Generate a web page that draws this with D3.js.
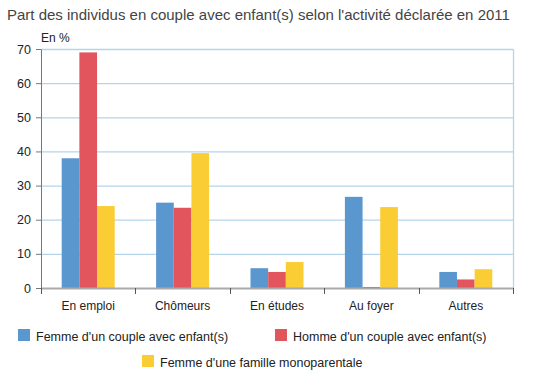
<!DOCTYPE html>
<html>
<head>
<meta charset="utf-8">
<script src="https://cdn.jsdelivr.net/npm/d3@7"></script>
<style>
  body { margin: 0; background: #fff; }
  svg { font-family: "Liberation Sans", Arial, sans-serif; }
</style>
</head>
<body>
<div class="chart"></div>
<script>
var categories = ["En emploi", "Chômeurs", "En études", "Au foyer", "Autres"];
var seriesNames = ["Femme d'un couple avec enfant(s)", "Homme d'un couple avec enfant(s)", "Femme d'une famille monoparentale"];
var femmeCouple = [38, 25, 5.8, 26.7, 4.7];
var hommeCouple = [69, 23.5, 4.7, 0.3, 2.5];
var femmeMono = [24, 39.5, 7.6, 23.7, 5.5];
var yTicks = [0, 10, 20, 30, 40, 50, 60, 70];

var colors = ["#5b97cf", "#e3555c", "#f9cd33"];
var seriesValues = [femmeCouple, hommeCouple, femmeMono];

var W = 537, H = 372;
var margin = {top: 49, right: 24, bottom: 84, left: 41},
    width = W - margin.left - margin.right,
    height = H - margin.top - margin.bottom;

var svg = d3.select(".chart").append("svg")
    .attr("width", W)
    .attr("height", H);

svg.append("text")
    .attr("x", 7)
    .attr("y", 20)
    .attr("font-size", 15)
    .attr("fill", "#444")
    .text("Part des individus en couple avec enfant(s) selon l'activité déclarée en 2011");

var g = svg.append("g")
    .attr("transform", "translate(" + margin.left + "," + margin.top + ")");

var x0 = d3.scaleBand().domain(categories).range([0, width]);
var x1 = d3.scaleBand().domain(d3.range(seriesNames.length))
    .range([0, 53]);
var y = d3.scaleLinear().domain([0, 70]).range([height, 0]);

// grid
g.append("g").selectAll("line")
    .data(yTicks.slice(1))
    .enter().append("line")
    .attr("x1", 0).attr("x2", width)
    .attr("y1", function(d) { return y(d) + 0.5; })
    .attr("y2", function(d) { return y(d) + 0.5; })
    .attr("stroke", "#b3d5ec")
    .attr("stroke-width", 1.3);

g.append("line")
    .attr("x1", width + 0.5).attr("x2", width + 0.5)
    .attr("y1", y(70)).attr("y2", height)
    .attr("stroke", "#b3d5ec")
    .attr("stroke-width", 1.3);

// bars
var groups = g.append("g").selectAll("g")
    .data(categories)
    .enter().append("g")
    .attr("transform", function(d) {
        return "translate(" + (x0(d) + (x0.bandwidth() - 53) / 2) + ",0)";
    });

groups.selectAll("rect")
    .data(function(d, i) { return seriesValues.map(function(s, k) { return {k: k, v: s[i]}; }); })
    .enter().append("rect")
    .attr("x", function(d) { return x1(d.k); })
    .attr("width", x1.bandwidth())
    .attr("y", function(d) { return y(d.v); })
    .attr("height", function(d) { return height - y(d.v); })
    .attr("fill", function(d) { return colors[d.k]; });

// y axis
var yAxis = g.append("g")
    .call(d3.axisLeft(y).tickValues(yTicks).tickSize(5).tickSizeOuter(0));
yAxis.select(".domain").attr("stroke", "#777");
yAxis.selectAll(".tick line").attr("stroke", "#777");
yAxis.selectAll("text")
    .attr("font-size", 12.5)
    .attr("fill", "#222")
    .attr("font-family", "Liberation Sans, Arial, sans-serif")
    .attr("x", -10);

g.append("text")
    .attr("x", 0)
    .attr("y", -7)
    .attr("font-size", 12)
    .attr("fill", "#222")
    .text("En %");

// x axis
var xAxis = g.append("g")
    .attr("transform", "translate(0," + height + ")")
    .call(d3.axisBottom(x0).tickSize(0));
xAxis.select(".domain").attr("stroke", "#aaa").attr("stroke-width", 2);
xAxis.selectAll("text")
    .attr("font-size", 12)
    .attr("fill", "#222")
    .attr("font-family", "Liberation Sans, Arial, sans-serif")
    .attr("dy", "1.6em");

var bounds = x0.domain().map(function(d) { return x0(d); }).concat([width]);
xAxis.selectAll(".sep")
    .data(bounds)
    .enter().append("line")
    .attr("x1", function(d) { return Math.round(d) + 0.5; })
    .attr("x2", function(d) { return Math.round(d) + 0.5; })
    .attr("y1", 0).attr("y2", 6)
    .attr("stroke", "#555");

// legend
var legendPos = [[18, 329], [275, 329], [142, 355]];
var legend = svg.append("g").selectAll("g")
    .data(seriesNames)
    .enter().append("g")
    .attr("transform", function(d, i) { return "translate(" + legendPos[i][0] + "," + legendPos[i][1] + ")"; });

legend.append("rect")
    .attr("width", 12)
    .attr("height", 12)
    .attr("fill", function(d, i) { return colors[i]; });

legend.append("text")
    .attr("x", 18)
    .attr("y", 11.5)
    .attr("font-size", 12.5)
    .attr("fill", "#222")
    .text(function(d) { return d; });
</script>
</body>
</html>
